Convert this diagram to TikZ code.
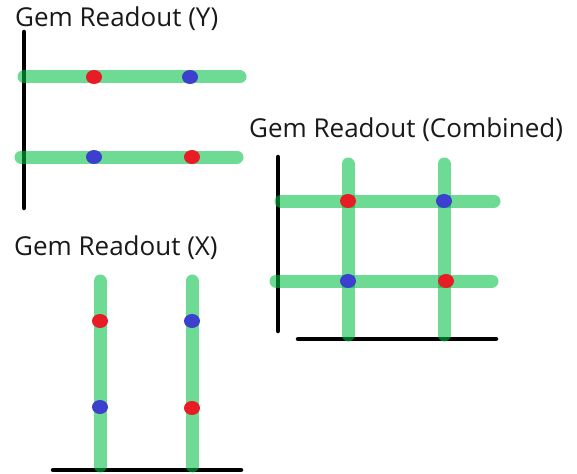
\documentclass[tikz,border=0pt]{standalone}
\usepackage{fontspec}
\setmainfont{Open Sans}
\usetikzlibrary{shapes.geometric}
\definecolor{stripgreen}{RGB}{0,192,68}
\definecolor{hitred}{RGB}{232,28,36}
\definecolor{hitblue}{RGB}{60,64,206}
\definecolor{titlegray}{RGB}{25,25,25}
\tikzset{
  strip/.style={line width=13pt, line cap=round, draw=stripgreen, draw opacity=0.57},
  frame/.style={line width=4.5pt, line cap=round, draw=black},
  hit/.style={ellipse, inner sep=0pt, minimum width=16pt, minimum height=14pt, draw=none},
  redhit/.style={hit, fill=hitred},
  bluehit/.style={hit, fill=hitblue},
  title/.style={anchor=base west, inner sep=0pt, text=titlegray, font=\fontsize{26}{30}\selectfont}
}
\begin{document}
\begin{tikzpicture}[x=1pt,y=-1pt]
\fill[white] (0,0) rectangle (577,473);
\useasboundingbox (0,0) rectangle (577,473);

% ---------- Y readout ----------
\node[title] (ty) at (15,27) {Gem Readout (Y)};
\coordinate (yb1) at (24,32);
\coordinate (yb2) at (24,208);
\draw[frame] (yb1) -- (yb2);
\coordinate (ya1) at (24,77);  \coordinate (ya2) at (240,77);
\coordinate (yc1) at (21,157); \coordinate (yc2) at (237,157);
\draw[strip] (ya1) -- (ya2);
\draw[strip] (yc1) -- (yc2);
\node[redhit]  (y11) at (94,77)  {};
\node[bluehit] (y12) at (190,77) {};
\node[bluehit] (y21) at (94,157) {};
\node[redhit]  (y22) at (192,157) {};

% ---------- X readout ----------
\node[title] (tx) at (14,255) {Gem Readout (X)};
\coordinate (xb1) at (53,470);
\coordinate (xb2) at (241,470);
\draw[frame] (xb1) -- (xb2);
\coordinate (xa1) at (100,281); \coordinate (xa2) at (100,466);
\coordinate (xc1) at (192,281); \coordinate (xc2) at (192,466);
\draw[strip] (xa1) -- (xa2);
\draw[strip] (xc1) -- (xc2);
\node[redhit]  (x11) at (100,321) {};
\node[bluehit] (x12) at (192,321) {};
\node[bluehit] (x21) at (100,407) {};
\node[redhit]  (x22) at (192,408) {};

% ---------- Combined readout ----------
\node[title] (tc) at (249,138) {Gem Readout (Combined)};
\coordinate (cv1) at (278,157);
\coordinate (cv2) at (278,331);
\draw[frame] (cv1) -- (cv2);
\coordinate (ch1) at (298,339);
\coordinate (ch2) at (496,339);
\draw[frame] (ch1) -- (ch2);
\coordinate (cx1a) at (348,164); \coordinate (cx1b) at (348,335);
\coordinate (cx2a) at (444,164); \coordinate (cx2b) at (444,335);
\coordinate (cy1a) at (281,201); \coordinate (cy1b) at (494,201);
\coordinate (cy2a) at (276,281); \coordinate (cy2b) at (492,281);
\draw[strip] (cy1a) -- (cy1b);
\draw[strip] (cy2a) -- (cy2b);
\draw[strip] (cx1a) -- (cx1b);
\draw[strip] (cx2a) -- (cx2b);
\node[redhit]  (c11) at (348,201) {};
\node[bluehit] (c12) at (444,201) {};
\node[bluehit] (c21) at (348,281) {};
\node[redhit]  (c22) at (446,281) {};
\end{tikzpicture}
\end{document}
